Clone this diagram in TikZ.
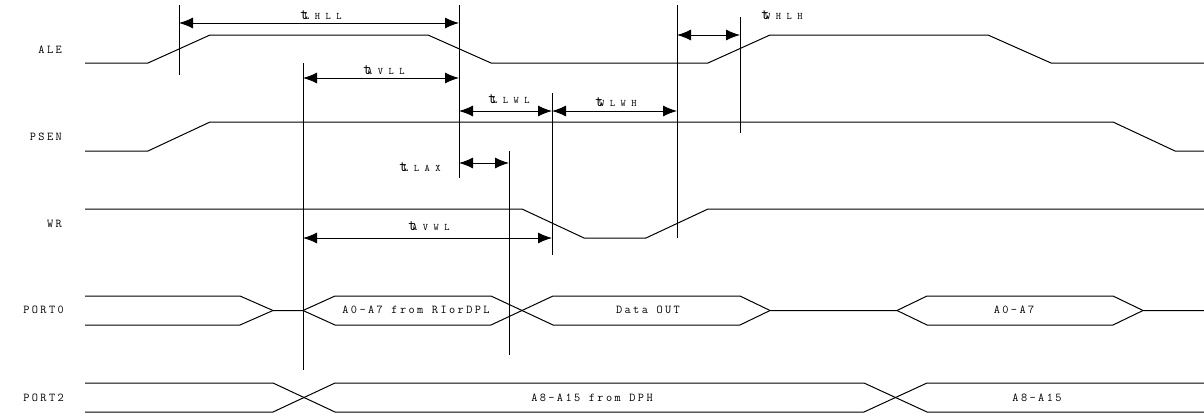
\documentclass[tikz,border=0pt]{standalone}
\usepackage{fontspec}
\newfontfamily\tdfont{Latin Modern Mono}[LetterSpace=20]
\newfontfamily\tsubfont{Latin Modern Mono}[LetterSpace=55]
\usetikzlibrary{arrows.meta, calc, positioning}
\newcommand{\tlab}[1]{{\ttfamily\fontsize{16}{16}\selectfont t}\kern-4.5pt%
  {\tsubfont\fontsize{10}{10}\selectfont #1}}
\tikzset{
  sig/.style={line width=1pt, line join=miter},
  markline/.style={line width=1pt},
  dim/.style={line width=1pt, {Latex[length=14pt,width=11pt]}-{Latex[length=14pt,width=11pt]}},
  signame/.style={font=\tdfont\fontsize{12}{13}\selectfont, inner sep=0pt, anchor=east},
  busname/.style={font=\tdfont\fontsize{12}{13}\selectfont, inner sep=0pt},
  tname/.style={inner sep=0pt}
}
\begin{document}
\begin{tikzpicture}[x=1pt, y=-1pt]
  \useasboundingbox (0,0) rectangle (1204,415);

  % signal names
  \node[signame] (ale)   at (62,50)  {ALE};
  \node[signame] (psen)  at (62,137) {PSEN};
  \node[signame] (wr)    at (62,224) {WR};
  \node[signame] (port0) at (64,310) {PORT0};
  \node[signame] (port2) at (64,398) {PORT2};

  % waveforms
  \draw[sig] (85,63) -- (148,63) -- (210,35) -- (428,35) -- (491,63) -- (708,63)
    -- (770,35) -- (988,35) -- (1051,63) -- (1204,63);
  \draw[sig] (85,151) -- (148,151) -- (210,122) -- (1113,122) -- (1175,151) -- (1204,151);
  \draw[sig] (85,209) -- (522,209) -- (584,238) -- (646,238) -- (708,209) -- (1204,209);

  \draw[sig] (85,296) -- (240,296) -- (273,310.5) -- (303,310.5);
  \draw[sig] (85,325) -- (240,325) -- (273,310.5);
  \draw[sig] (303,310.5) -- (335,296) -- (491,296) -- (553,325) -- (740,325) -- (770,310.5)
    -- (897,310.5) -- (927,325) -- (1113,325) -- (1143,310.5) -- (1204,310.5);
  \draw[sig] (303,310.5) -- (335,325) -- (491,325) -- (553,296) -- (740,296) -- (770,310.5);
  \draw[sig] (897,310.5) -- (927,296) -- (1113,296) -- (1143,310.5);

  \draw[sig] (85,383) -- (273,383) -- (335,412) -- (864,412) -- (927,383) -- (1204,383);
  \draw[sig] (85,412) -- (273,412) -- (335,383) -- (864,383) -- (927,412) -- (1204,412);

  \node[busname] (adrlo)  at (416,310) {A0-A7 from RIorDPL};
  \node[busname] (dout)   at (648,310) {Data OUT};
  \node[busname] (adrlo2) at (1014,310) {A0-A7};
  \node[busname] (adrhi)  at (592,398) {A8-A15 from DPH};
  \node[busname] (adrhi2) at (1037,398) {A8-A15};

  % edge markers
  \foreach \m/\x/\ya/\yb in {ma/179/5/75, mb/459/5/178, mc/303/63/370, md/552/93/255,
                            me/677/5/238, mf/740/17/133, mg/509/151/355} {
    \coordinate (\m-t) at (\x,\ya);
    \coordinate (\m-b) at (\x,\yb);
    \draw[markline] (\m-t) -- (\m-b);
  }

  % timing intervals
  \draw[dim] (ma-t |- 0,23)  -- (mb-t |- 0,23);
  \draw[dim] (mc-t |- 0,78)  -- (mb-t |- 0,78);
  \draw[dim] (mb-t |- 0,111) -- (md-t |- 0,111);
  \draw[dim] (md-t |- 0,111) -- (me-t |- 0,111);
  \draw[dim] (me-t |- 0,35)  -- (mf-t |- 0,35);
  \draw[dim] (mb-t |- 0,163) -- (mg-t |- 0,163);
  \draw[dim] (mc-t |- 0,238) -- (md-t |- 0,238);

  \node[tname] (tlhll) at (321,15)  {\tlab{LHLL}};
  \node[tname] (tavll) at (384,70)  {\tlab{AVLL}};
  \node[tname] (tllwl) at (509,99)  {\tlab{LLWL}};
  \node[tname] (twlwh) at (616,102) {\tlab{WLWH}};
  \node[tname] (twhlh) at (782,15)  {\tlab{WHLH}};
  \node[tname] (tllax) at (420,167) {\tlab{LLAX}};
  \node[tname] (tavwl) at (429,226) {\tlab{AVWL}};
\end{tikzpicture}
\end{document}
